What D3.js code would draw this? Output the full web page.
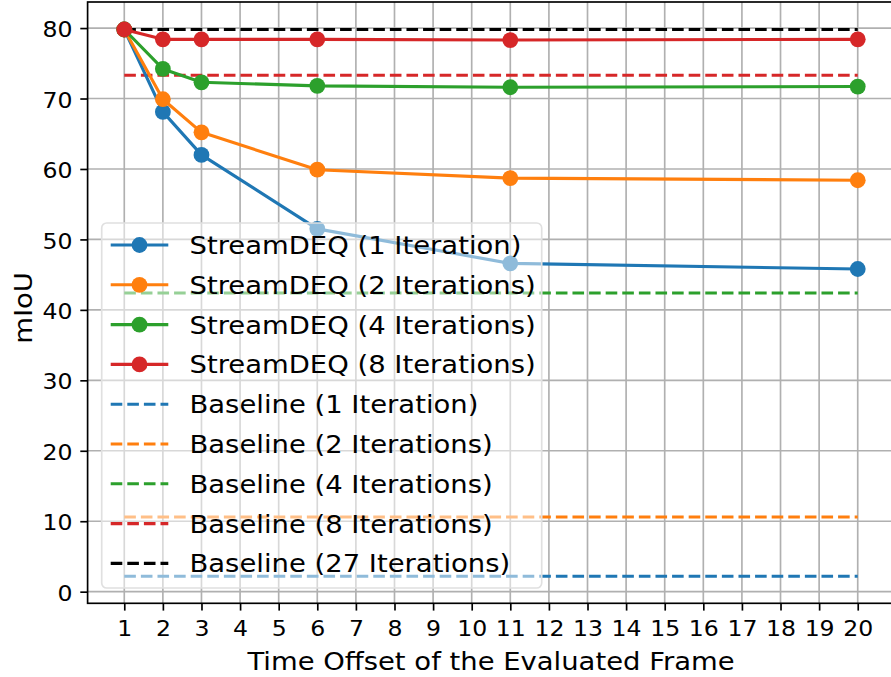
<!DOCTYPE html>
<html>
<head>
<meta charset="utf-8">
<script src="https://cdn.jsdelivr.net/npm/d3@7"></script>
<style>
  body { margin: 0; background: #fff; }
  svg { display: block; font-family: "DejaVu Sans", sans-serif; }
</style>
</head>
<body>
<svg id="vis" width="891" height="677"></svg>
<script>
// data
const offsets = [1, 2, 3, 6, 11, 20];
const xTicks = d3.range(1, 21);
const yTicks = [0, 10, 20, 30, 40, 50, 60, 70, 80];

const streamNames = ["StreamDEQ (1 Iteration)", "StreamDEQ (2 Iterations)", "StreamDEQ (4 Iterations)", "StreamDEQ (8 Iterations)"];
const stream1 = [79.8, 68.1, 62.0, 51.5, 46.6, 45.8];
const stream2 = [79.8, 69.9, 65.2, 59.9, 58.7, 58.4];
const stream4 = [79.8, 74.2, 72.3, 71.8, 71.6, 71.7];
const stream8 = [79.8, 78.4, 78.4, 78.4, 78.3, 78.4];

const baselineNames = ["Baseline (1 Iteration)", "Baseline (2 Iterations)", "Baseline (4 Iterations)", "Baseline (8 Iterations)", "Baseline (27 Iterations)"];
const baselineValues = [2.2, 10.6, 42.4, 73.3, 79.8];

const streamColors = ["#1f77b4", "#ff7f0e", "#2ca02c", "#d62728"];
const baselineColors = ["#1f77b4", "#ff7f0e", "#2ca02c", "#d62728", "#000000"];

const svg = d3.select("svg#vis");

// axes box (right edge runs off the picture like the reference)
const box = {left: 87.6, right: 894.4, top: 2, bottom: 603.3};
const lw = 3.1;
const stretch = 1.12;  // the reference text is a bit wider than tall

const x = d3.scaleLinear().domain([0.05, 20.95]).range([box.left, box.right]);
const y = d3.scaleLinear().domain([-1.65, 83.7]).range([box.bottom, box.top]);

// grid
const grid = svg.append("g").attr("id", "grid");
grid.selectAll("line.gx")
  .data(xTicks)
  .enter()
  .append("line")
  .attr("x1", d => x(d)).attr("x2", d => x(d))
  .attr("y1", box.top).attr("y2", box.bottom)
  .attr("stroke", "#b0b0b0").attr("stroke-width", 1.67);
grid.selectAll("line.gy")
  .data(yTicks)
  .enter()
  .append("line")
  .attr("y1", d => y(d)).attr("y2", d => y(d))
  .attr("x1", box.left).attr("x2", box.right)
  .attr("stroke", "#b0b0b0").attr("stroke-width", 1.67);

// baselines (dashed)
const baseG = svg.append("g").attr("id", "baselines");
baselineValues.forEach(function(v, i) {
  baseG.append("line")
    .attr("x1", x(1)).attr("x2", x(20))
    .attr("y1", y(v)).attr("y2", y(v))
    .attr("stroke", baselineColors[i])
    .attr("stroke-width", lw)
    .attr("stroke-dasharray", "11.6,5");
});

// streamdeq lines + markers
const line = d3.line()
  .x(d => x(d[0]))
  .y(d => y(d[1]));

const streams = [stream1, stream2, stream4, stream8];
const streamG = svg.append("g").attr("id", "streams");
streams.forEach(function(vals, i) {
  const pts = offsets.map((o, j) => [o, vals[j]]);
  streamG.append("path")
    .attr("d", line(pts))
    .attr("fill", "none")
    .attr("stroke", streamColors[i])
    .attr("stroke-width", lw)
    .attr("stroke-linejoin", "round");
  streamG.selectAll("circle.s" + i)
    .data(pts)
    .enter()
    .append("circle")
    .attr("cx", d => x(d[0]))
    .attr("cy", d => y(d[1]))
    .attr("r", 7.9)
    .attr("fill", streamColors[i]);
});

// spines
svg.append("rect")
  .attr("x", box.left).attr("y", box.top)
  .attr("width", box.right - box.left).attr("height", box.bottom - box.top)
  .attr("fill", "none").attr("stroke", "#000").attr("stroke-width", 1.67);

// axes
const xAxis = svg.append("g")
  .attr("transform", "translate(0," + box.bottom + ")")
  .call(d3.axisBottom(x).tickValues(xTicks).tickSize(7.3).tickPadding(11.3).tickSizeOuter(0));
const yAxis = svg.append("g")
  .attr("transform", "translate(" + box.left + ",0)")
  .call(d3.axisLeft(y).tickValues(yTicks).tickSize(7.3).tickPadding(7.3).tickSizeOuter(0));

[xAxis, yAxis].forEach(function(a) {
  a.select(".domain").remove();
  a.selectAll(".tick line").attr("stroke", "#000").attr("stroke-width", 1.67);
  a.selectAll(".tick text")
    .attr("fill", "#000")
    .attr("transform", "scale(1.15,1)")
    .style("font-family", "DejaVu Sans")
    .style("font-size", "20.5px");
});
yAxis.selectAll(".tick text")
  .attr("x", -15.1 / 1.15)
  .attr("dy", "0.42em");

// axis labels
svg.append("text")
  .attr("transform", "translate(" + (box.left + box.right) / 2 + ",669.5) scale(" + stretch + ",1)")
  .attr("text-anchor", "middle")
  .style("font-size", "24.5px")
  .text("Time Offset of the Evaluated Frame");

svg.append("text")
  .attr("transform", "translate(31.5,308) rotate(-90) scale(" + stretch + ",1)")
  .attr("text-anchor", "middle")
  .style("font-size", "24.5px")
  .text("mIoU");

// legend
const legend = svg.append("g").attr("id", "legend");
legend.append("rect")
  .attr("x", 101.7).attr("y", 223)
  .attr("width", 440).attr("height", 365)
  .attr("rx", 5)
  .attr("fill", "#fff").attr("fill-opacity", 0.5)
  .attr("stroke", "#e0e0e0").attr("stroke-width", 1.67);

const rowY = i => 245 + i * 39.8;
function legendText(name, i) {
  legend.append("text")
    .attr("transform", "translate(189.5," + rowY(i) + ") scale(" + stretch + ",1)")
    .attr("dy", "0.37em")
    .style("font-size", "24.5px")
    .text(name);
}
streamNames.forEach(function(name, i) {
  legend.append("line")
    .attr("x1", 110.7).attr("x2", 168.3)
    .attr("y1", rowY(i)).attr("y2", rowY(i))
    .attr("stroke", streamColors[i]).attr("stroke-width", lw);
  legend.append("circle")
    .attr("cx", 139.5).attr("cy", rowY(i)).attr("r", 7.9)
    .attr("fill", streamColors[i]);
  legendText(name, i);
});
baselineNames.forEach(function(name, k) {
  const i = k + 4;
  legend.append("line")
    .attr("x1", 110.7).attr("x2", 168.3)
    .attr("y1", rowY(i)).attr("y2", rowY(i))
    .attr("stroke", baselineColors[k]).attr("stroke-width", lw)
    .attr("stroke-dasharray", "11.6,5");
  legendText(name, i);
});
</script>
</body>
</html>
